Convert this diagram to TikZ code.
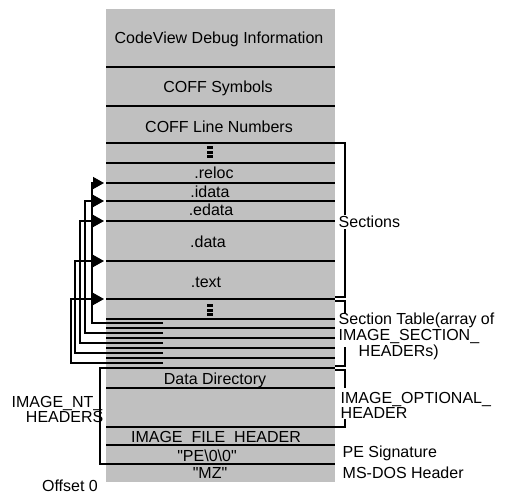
\documentclass[tikz,border=0pt]{standalone}
\usepackage{fontspec}
\setmainfont{Liberation Sans}
\usetikzlibrary{arrows.meta, positioning}

\definecolor{pegray}{RGB}{192,192,192}
\newcommand{\morebars}{\vbox{\hrule width 6pt height 3pt\vskip 1.5pt\hrule width 6pt height 3pt\vskip 1.5pt\hrule width 6pt height 3pt}}

\begin{document}
\begin{tikzpicture}[
	x=1pt, y=-1pt,
	line width=1.4pt,
	ptr/.style={-{Triangle[length=11pt,width=12pt]}},
	bars/.style={text height=12pt, text depth=0pt},
	note/.style={anchor=base west}
]
\useasboundingbox (0,0) rectangle (514,496);
\tikzstyle{every node}=[inner sep=0pt, font=\fontsize{16}{14}\selectfont, text height=11pt, text depth=0pt]

% the file image
\fill[pegray] (106,9) rectangle (335,482);
\foreach \y in {67,106,143,163,183,201,221,261,299,319,328,338,348,358,388,427,445}
	\draw (106,\y) -- (335,\y);

% section headers point to their raw data
\foreach \s/\yh/\ys/\xv in {reloc/323/183/92, idata/333/201/85, edata/343/221/80, data/353/261/75, text/363/299/71}{
	\coordinate (hdr-\s) at (163,\yh);
	\coordinate (sec-\s) at (104,\ys);
	\draw[ptr] (hdr-\s) -| (\xv,\ys) -- (sec-\s);
}

% IMAGE_NT_HEADERS
\coordinate (nt-top) at (335,368);
\coordinate (nt-bot) at (335,464);
\draw (nt-top) -| (100,416) |- (nt-bot);

% brackets on the right, open where the label sits
\draw (335,143) -| (345,215);
\draw (345,229) |- (335,297);
\draw (335,301) -| (345,314);
\draw (345,347) |- (335,366);
\draw (335,370) -| (345,388);
\draw (345,419) |- (335,427);

\node[anchor=base] (codeview)  at (219,43)  {CodeView Debug Information};
\node[anchor=base] (coffsym)   at (218,92)  {COFF Symbols};
\node[anchor=base] (cofflines) at (219,132) {COFF Line Numbers};
\node[bars]        (more-sec)  at (210,152) {\morebars};
\node[anchor=base] (reloc)     at (214,178) {.reloc};
\node[anchor=base] (idata)     at (210,197) {.idata};
\node[anchor=base] (edata)     at (211,215) {.edata};
\node[anchor=base] (data)      at (208,247) {.data};
\node[anchor=base] (textsec)   at (206,287) {.text};
\node[bars]        (more-hdr)  at (210,310) {\morebars};
\node[anchor=base] (datadir)   at (215,384) {Data Directory};
\node[anchor=base] (filehdr)   at (216,442) {IMAGE\_FILE\_HEADER};
\node[anchor=base] (pesig)     at (207,461) {\textquotedbl PE\textbackslash 0\textbackslash 0\textquotedbl};
\node[anchor=base] (mz)        at (210,478) {\textquotedbl MZ\textquotedbl};

\node[note] (sections) at (338,227) {Sections};
\node[note] (sectab)   at (338,324) {Section Table(array of};
\node[note] (sectab2)  at (338,340) {IMAGE\_SECTION\_};
\node[note] (sectab3)  at (358,356.5) {HEADERs)};
\node[note] (opthdr)   at (340,403) {IMAGE\_OPTIONAL\_};
\node[note] (opthdr2)  at (340,418) {HEADER};
\node[note] (pelbl)    at (342,457) {PE Signature};
\node[note] (doslbl)   at (342,478) {MS-DOS Header};
\node[anchor=base east] (nthdr)  at (103,407.5) {IMAGE\_NT\_};
\node[anchor=base east] (nthdr2) at (104,422) {HEADERS};
\node[anchor=base] (offset) at (70,491) {Offset 0};
\end{tikzpicture}
\end{document}
